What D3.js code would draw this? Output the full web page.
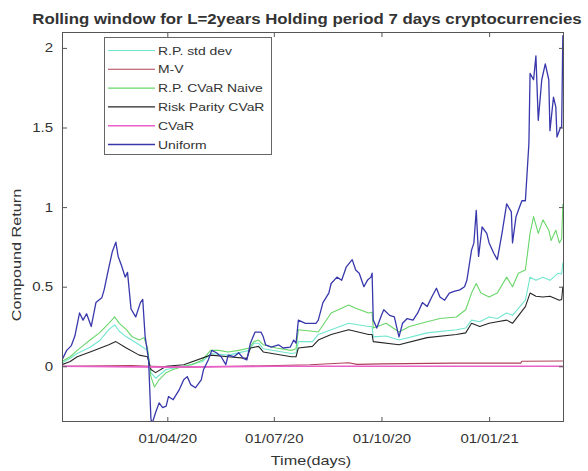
<!DOCTYPE html>
<html>
<head>
<meta charset="utf-8">
<script src="https://cdn.jsdelivr.net/npm/d3@7"></script>
<style>
  html, body { margin: 0; padding: 0; background: #fff; }
  svg { display: block; }
  text { font-family: "Liberation Sans", Arial, Helvetica, sans-serif; fill: #333; }
</style>
</head>
<body>
<svg id="chart" width="588" height="471"></svg>
<script>
// Compound return of each portfolio strategy, [date, value]
const rpStdDev = [
  ["2020-01-02",0.02],["2020-01-09",0.05],["2020-01-15",0.08],["2020-01-26",0.12],["2020-02-03",0.16],
  ["2020-02-11",0.23],["2020-02-16",0.26],["2020-02-20",0.22],["2020-02-26",0.185],["2020-03-08",0.135],
  ["2020-03-15",0.10],["2020-03-18",-0.04],["2020-03-22",-0.075],["2020-03-31",-0.02],["2020-04-15",0.0],
  ["2020-05-01",0.03],["2020-05-08",0.08],["2020-05-23",0.07],["2020-06-10",0.10],["2020-06-14",0.145],
  ["2020-06-18",0.145],["2020-06-22",0.11],["2020-07-16",0.08],["2020-07-20",0.085],["2020-07-22",0.155],
  ["2020-08-03",0.155],["2020-08-08",0.20],["2020-08-19",0.23],["2020-09-03",0.27],["2020-09-20",0.25],
  ["2020-09-23",0.25],["2020-09-24",0.185],["2020-10-05",0.19],["2020-10-16",0.165],["2020-11-09",0.21],
  ["2020-12-04",0.23],["2020-12-12",0.24],["2020-12-17",0.29],["2020-12-24",0.28],["2021-01-01",0.31],
  ["2021-01-08",0.30],["2021-01-16",0.335],["2021-01-21",0.32],["2021-02-01",0.415],["2021-02-05",0.56],
  ["2021-02-10",0.54],["2021-02-16",0.56],["2021-02-22",0.54],["2021-03-01",0.585],["2021-03-04",0.58],
  ["2021-03-05",0.65]
];
const meanVariance = [
  ["2020-01-02",0.0],["2020-03-01",0.005],["2020-03-18",0.0],["2020-04-15",-0.005],["2020-06-01",0.0],
  ["2020-08-01",0.01],["2020-09-03",0.022],["2020-09-10",0.012],["2020-10-01",0.015],["2020-12-01",0.02],
  ["2021-01-28",0.02],["2021-01-29",0.032],["2021-03-05",0.033]
];
const rpCvarNaive = [
  ["2020-01-02",0.03],["2020-01-09",0.06],["2020-01-15",0.10],["2020-01-20",0.13],["2020-01-26",0.165],
  ["2020-02-03",0.21],["2020-02-11",0.27],["2020-02-16",0.31],["2020-02-20",0.27],["2020-02-26",0.23],
  ["2020-03-02",0.185],["2020-03-08",0.165],["2020-03-12",0.18],["2020-03-15",0.12],["2020-03-18",-0.065],
  ["2020-03-21",-0.13],["2020-03-25",-0.085],["2020-03-31",-0.04],["2020-04-06",-0.02],["2020-04-15",0.0],
  ["2020-04-22",0.01],["2020-05-01",0.04],["2020-05-08",0.10],["2020-05-15",0.10],["2020-05-23",0.09],
  ["2020-06-01",0.10],["2020-06-10",0.115],["2020-06-14",0.155],["2020-06-18",0.165],["2020-06-22",0.135],
  ["2020-07-03",0.115],["2020-07-16",0.10],["2020-07-20",0.11],["2020-07-22",0.23],["2020-08-03",0.22],
  ["2020-08-08",0.215],["2020-08-19",0.335],["2020-09-03",0.385],["2020-09-09",0.365],["2020-09-20",0.335],
  ["2020-09-23",0.34],["2020-09-24",0.24],["2020-10-05",0.27],["2020-10-16",0.215],["2020-10-25",0.25],
  ["2020-11-09",0.28],["2020-11-20",0.30],["2020-12-04",0.31],["2020-12-12",0.355],["2020-12-17",0.46],
  ["2020-12-21",0.52],["2020-12-25",0.46],["2021-01-01",0.435],["2021-01-08",0.46],["2021-01-16",0.56],
  ["2021-01-21",0.50],["2021-01-26",0.585],["2021-02-01",0.605],["2021-02-05",0.835],["2021-02-08",0.94],
  ["2021-02-12",0.835],["2021-02-16",0.92],["2021-02-21",0.855],["2021-02-23",0.79],["2021-02-27",0.855],
  ["2021-03-02",0.775],["2021-03-04",0.80],["2021-03-05",1.02]
];
const riskParityCvar = [
  ["2020-01-02",0.01],["2020-01-09",0.03],["2020-01-15",0.06],["2020-01-26",0.09],["2020-02-11",0.135],
  ["2020-02-17",0.155],["2020-02-26",0.115],["2020-03-08",0.07],["2020-03-15",0.06],["2020-03-18",-0.02],
  ["2020-03-22",-0.04],["2020-03-31",0.0],["2020-04-15",0.01],["2020-05-08",0.07],["2020-05-23",0.06],
  ["2020-06-08",0.05],["2020-06-11",0.115],["2020-06-18",0.125],["2020-06-22",0.09],["2020-07-16",0.06],
  ["2020-07-20",0.06],["2020-07-22",0.115],["2020-08-03",0.125],["2020-08-08",0.165],["2020-08-19",0.20],
  ["2020-09-03",0.23],["2020-09-20",0.20],["2020-09-23",0.20],["2020-09-24",0.155],["2020-10-16",0.135],
  ["2020-11-09",0.18],["2020-12-04",0.20],["2020-12-12",0.21],["2020-12-17",0.27],["2020-12-24",0.25],
  ["2021-01-01",0.27],["2021-01-08",0.28],["2021-01-16",0.29],["2021-01-21",0.27],["2021-02-01",0.375],
  ["2021-02-05",0.46],["2021-02-10",0.44],["2021-02-16",0.435],["2021-02-22",0.44],["2021-03-02",0.415],
  ["2021-03-04",0.42],["2021-03-05",0.50]
];
const cvar = [
  ["2020-01-02",0.0],["2020-04-01",-0.005],["2020-07-01",0.0],["2020-10-01",0.0],["2021-01-01",0.0],
  ["2021-03-05",0.0]
];
const uniform = [
  ["2020-01-02",0.04],["2020-01-06",0.10],["2020-01-10",0.13],["2020-01-13",0.19],["2020-01-17",0.335],
  ["2020-01-20",0.29],["2020-01-23",0.33],["2020-01-27",0.25],["2020-01-31",0.40],["2020-02-05",0.43],
  ["2020-02-07",0.48],["2020-02-11",0.62],["2020-02-14",0.72],["2020-02-17",0.78],["2020-02-19",0.69],
  ["2020-02-22",0.63],["2020-02-25",0.56],["2020-02-27",0.59],["2020-03-01",0.36],["2020-03-05",0.31],
  ["2020-03-09",0.40],["2020-03-11",0.42],["2020-03-13",0.19],["2020-03-16",0.04],["2020-03-18",-0.33],
  ["2020-03-19",-0.36],["2020-03-22",-0.29],["2020-03-25",-0.23],["2020-03-28",-0.26],["2020-03-31",-0.25],
  ["2020-04-02",-0.19],["2020-04-06",-0.21],["2020-04-11",-0.15],["2020-04-15",-0.085],["2020-04-18",-0.065],
  ["2020-04-21",-0.115],["2020-04-25",-0.135],["2020-04-30",-0.085],["2020-05-02",-0.02],["2020-05-06",0.04],
  ["2020-05-09",0.10],["2020-05-13",0.085],["2020-05-17",0.06],["2020-05-21",0.01],["2020-05-23",0.07],
  ["2020-05-28",0.06],["2020-06-01",0.085],["2020-06-05",0.05],["2020-06-08",0.04],["2020-06-11",0.145],
  ["2020-06-15",0.215],["2020-06-20",0.215],["2020-06-22",0.185],["2020-06-24",0.135],["2020-06-29",0.12],
  ["2020-07-05",0.135],["2020-07-09",0.115],["2020-07-15",0.12],["2020-07-18",0.165],["2020-07-20",0.145],
  ["2020-07-22",0.29],["2020-07-28",0.27],["2020-08-06",0.27],["2020-08-08",0.29],["2020-08-12",0.40],
  ["2020-08-17",0.46],["2020-08-19",0.52],["2020-08-24",0.56],["2020-08-28",0.54],["2020-09-01",0.625],
  ["2020-09-06",0.67],["2020-09-09",0.605],["2020-09-12",0.585],["2020-09-16",0.50],["2020-09-19",0.54],
  ["2020-09-22",0.56],["2020-09-23",0.585],["2020-09-24",0.29],["2020-09-27",0.24],["2020-10-01",0.32],
  ["2020-10-03",0.355],["2020-10-08",0.32],["2020-10-12",0.31],["2020-10-15",0.215],["2020-10-16",0.185],
  ["2020-10-19",0.27],["2020-10-23",0.30],["2020-10-28",0.29],["2020-11-01",0.335],["2020-11-05",0.40],
  ["2020-11-09",0.375],["2020-11-13",0.435],["2020-11-17",0.49],["2020-11-20",0.435],["2020-11-24",0.415],
  ["2020-11-28",0.46],["2020-12-02",0.47],["2020-12-07",0.48],["2020-12-11",0.50],["2020-12-13",0.54],
  ["2020-12-17",0.73],["2020-12-19",0.775],["2020-12-21",0.98],["2020-12-23",0.69],["2020-12-26",0.875],
  ["2020-12-30",0.835],["2021-01-01",0.775],["2021-01-05",0.71],["2021-01-08",0.67],["2021-01-12",0.835],
  ["2021-01-16",1.02],["2021-01-20",0.97],["2021-01-21",0.775],["2021-01-24",0.94],["2021-01-26",0.98],
  ["2021-01-29",1.04],["2021-02-01",1.04],["2021-02-04",1.40],["2021-02-05",1.84],["2021-02-08",1.80],
  ["2021-02-10",1.95],["2021-02-12",1.545],["2021-02-15",1.80],["2021-02-18",1.90],["2021-02-21",1.80],
  ["2021-02-22",1.48],["2021-02-25",1.69],["2021-02-27",1.63],["2021-02-28",1.44],["2021-03-03",1.50],
  ["2021-03-04",1.50],["2021-03-05",2.08]
];

const seriesNames = ["R.P. std dev", "M-V", "R.P. CVaR Naive", "Risk Parity CVaR", "CVaR", "Uniform"];
const seriesData = [rpStdDev, meanVariance, rpCvarNaive, riskParityCvar, cvar, uniform];
const seriesColors = ["#72e6cf", "#b0405a", "#6ad66a", "#262626", "#e860c8", "#3838ac"];
const seriesWidths = [1.1, 1.1, 1.1, 1.1, 1.6, 1.3];

const xDomain = ["2020-01-02", "2021-03-06"];
const yDomain = [-0.35, 2.1];
const xTickDates = ["2020-04-01", "2020-07-01", "2020-10-01", "2021-01-01"];
const yTickValues = [0, 0.5, 1, 1.5, 2];

const titleText = "Rolling window for L=2years Holding period 7 days cryptocurrencies";
const xLabelText = "Time(days)";
const yLabelText = "Compound Return";

const parse = d3.timeParse("%Y-%m-%d");
const svg = d3.select("#chart");
const plot = { left: 62, right: 564, top: 32, bottom: 422 };

const x = d3.scaleTime().domain(xDomain.map(parse)).range([plot.left, plot.right]);
const y = d3.scaleLinear().domain(yDomain).range([plot.bottom, plot.top]);

svg.append("rect").attr("width", 588).attr("height", 471).attr("fill", "#fff");

svg.append("defs").append("clipPath").attr("id", "plotClip")
  .append("rect")
  .attr("x", plot.left).attr("y", plot.top)
  .attr("width", plot.right - plot.left).attr("height", plot.bottom - plot.top);

// Series lines
const line = d3.line().x(d => x(parse(d[0]))).y(d => y(d[1]));
const lines = svg.append("g").attr("clip-path", "url(#plotClip)");
seriesData.forEach((data, i) => {
  lines.append("path")
    .attr("d", line(data))
    .attr("fill", "none")
    .attr("stroke", seriesColors[i])
    .attr("stroke-width", seriesWidths[i])
    .attr("stroke-linejoin", "round");
});

// Axes with inward ticks on all four sides
const xTicks = xTickDates.map(parse);
const fmt = d3.timeFormat("%d/%m/%y");
const axisColor = "#555";

const gBottom = svg.append("g").attr("transform", `translate(0,${plot.bottom})`)
  .call(d3.axisBottom(x).tickValues(xTicks).tickFormat(fmt).tickSizeInner(-5).tickSizeOuter(0).tickPadding(12));
const gTop = svg.append("g").attr("transform", `translate(0,${plot.top})`)
  .call(d3.axisTop(x).tickValues(xTicks).tickFormat("").tickSizeInner(-5).tickSizeOuter(0));
const gLeft = svg.append("g").attr("transform", `translate(${plot.left},0)`)
  .call(d3.axisLeft(y).tickValues(yTickValues).tickFormat(d3.format("~g")).tickSizeInner(-5).tickSizeOuter(0).tickPadding(9));
const gRight = svg.append("g").attr("transform", `translate(${plot.right},0)`)
  .call(d3.axisRight(y).tickValues(yTickValues).tickFormat("").tickSizeInner(-5).tickSizeOuter(0));

[gBottom, gTop, gLeft, gRight].forEach(g => {
  g.select(".domain").remove();
  g.selectAll("line").attr("stroke", axisColor);
  g.selectAll("text").attr("font-size", 12.5).attr("fill", "#333")
    .attr("font-family", "'Liberation Sans', Arial, sans-serif");
});

svg.append("rect")
  .attr("x", plot.left + 0.5).attr("y", plot.top + 0.5)
  .attr("width", plot.right - plot.left - 1).attr("height", plot.bottom - plot.top - 1)
  .attr("fill", "none").attr("stroke", axisColor).attr("stroke-width", 1);

// Title and axis labels
svg.append("text").attr("class", "stretch")
  .attr("x", 307).attr("y", 24).attr("text-anchor", "middle")
  .attr("font-size", 14).attr("font-weight", "bold").attr("fill", "#111")
  .text(titleText);
svg.append("text").attr("class", "stretch")
  .attr("x", 311).attr("y", 465).attr("text-anchor", "middle")
  .attr("font-size", 13.5)
  .text(xLabelText);
svg.append("text").attr("class", "stretch")
  .attr("transform", "translate(21,255) rotate(-90)").attr("text-anchor", "middle")
  .attr("font-size", 13.5)
  .text(yLabelText);

// Legend
const legend = svg.append("g");
legend.append("rect")
  .attr("x", 104.5).attr("y", 37.5).attr("width", 167).attr("height", 117)
  .attr("fill", "#fff").attr("stroke", "#666").attr("stroke-width", 1);
seriesNames.forEach((name, i) => {
  const cy = 50.5 + i * 18.8;
  legend.append("line")
    .attr("x1", 108).attr("x2", 155).attr("y1", cy).attr("y2", cy)
    .attr("stroke", seriesColors[i]).attr("stroke-width", seriesWidths[i]);
  legend.append("text").attr("class", "stretch")
    .attr("x", 158).attr("y", cy).attr("dy", "0.35em")
    .attr("font-size", 11.6)
    .text(name);
});

// Widen all text slightly to the chart's wide lettering
gBottom.selectAll("text").classed("stretch", true);
gLeft.selectAll("text").classed("stretch", true);
svg.selectAll("text.stretch").each(function () {
  const w = this.getComputedTextLength();
  if (w > 0) {
    d3.select(this).attr("textLength", w * 1.2).attr("lengthAdjust", "spacingAndGlyphs");
  }
});
</script>
</body>
</html>
